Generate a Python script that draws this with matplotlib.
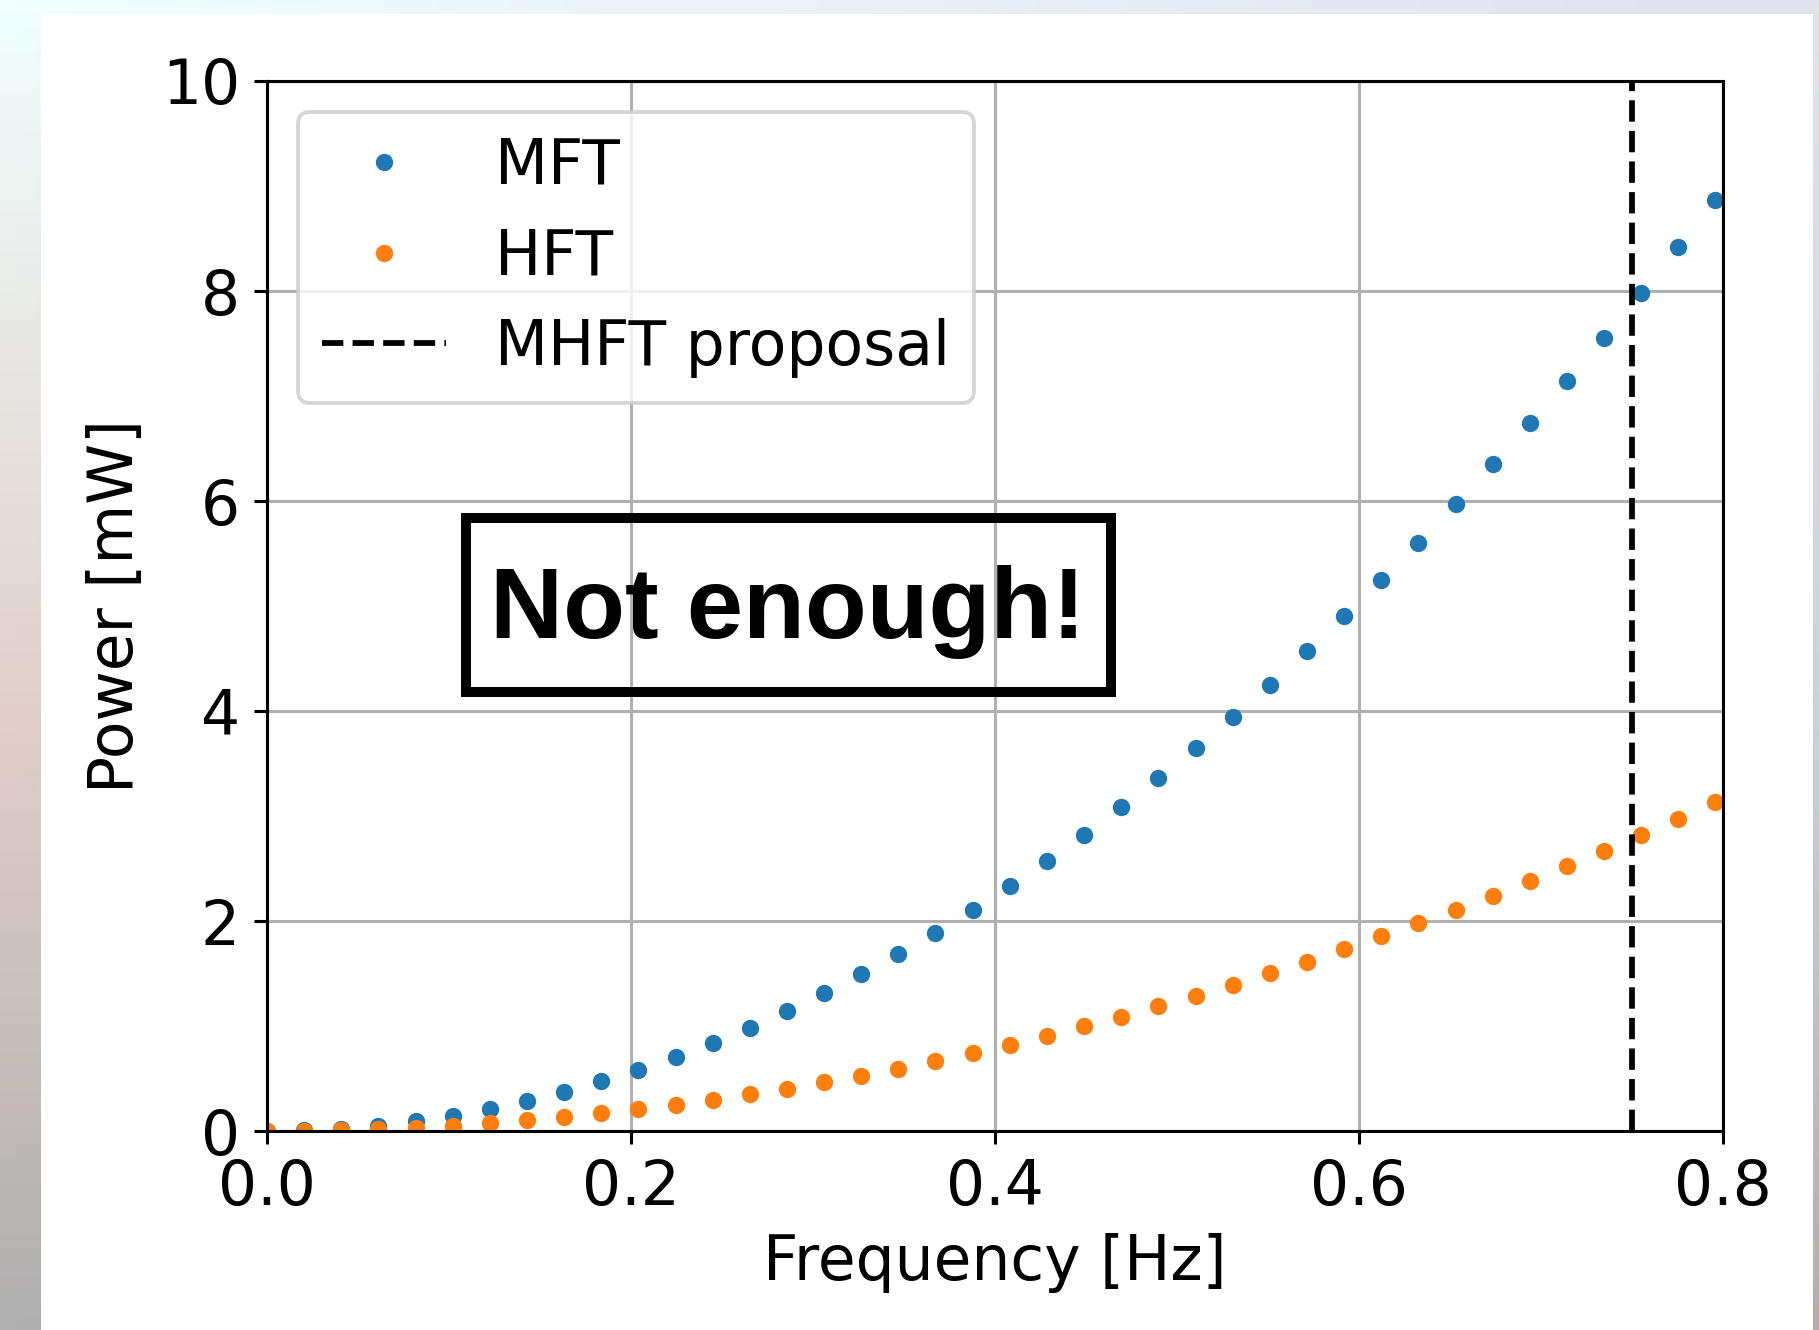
import numpy as np
import matplotlib
matplotlib.use("Agg")
import matplotlib.pyplot as plt

# frequency grid [Hz]
freq = [0.0, 0.0204, 0.0408, 0.0612, 0.0816, 0.1020, 0.1224, 0.1429, 0.1633, 0.1837,
        0.2041, 0.2245, 0.2449, 0.2653, 0.2857, 0.3061, 0.3265, 0.3469, 0.3673, 0.3878,
        0.4082, 0.4286, 0.4490, 0.4694, 0.4898, 0.5102, 0.5306, 0.5510, 0.5714, 0.5918,
        0.6122, 0.6327, 0.6531, 0.6735, 0.6939, 0.7143, 0.7347, 0.7551, 0.7755, 0.7959]

# power [mW]
mft = [0.0, 0.006, 0.023, 0.052, 0.093, 0.146, 0.210, 0.286, 0.373, 0.472,
       0.583, 0.706, 0.840, 0.985, 1.143, 1.312, 1.493, 1.685, 1.889, 2.105,
       2.332, 2.571, 2.822, 3.085, 3.359, 3.644, 3.942, 4.251, 4.571, 4.904,
       5.248, 5.603, 5.971, 6.350, 6.741, 7.143, 7.557, 7.983, 8.420, 8.869]
hft = [0.0, 0.002, 0.008, 0.019, 0.033, 0.051, 0.074, 0.101, 0.132, 0.167,
       0.206, 0.249, 0.296, 0.348, 0.404, 0.463, 0.527, 0.595, 0.667, 0.743,
       0.824, 0.908, 0.997, 1.089, 1.186, 1.287, 1.392, 1.501, 1.614, 1.732,
       1.853, 1.979, 2.108, 2.242, 2.380, 2.522, 2.668, 2.819, 2.973, 3.132]

proposal_freq = 0.75

plt.rcParams['font.size'] = 16

dpi = 277
fig = plt.figure(figsize=(1819 / dpi, 1330 / dpi), dpi=dpi)

# slide-like frame behind the white card
bg = fig.add_axes([0, 0, 1, 1], zorder=-10)
ny, nx = 100, 100
ty = np.linspace(0, 1, ny)
stops = [0.0, 0.55, 1.0]
left_col = np.stack([np.interp(ty, stops, [240, 224, 176]),
                     np.interp(ty, stops, [255, 206, 176]),
                     np.interp(ty, stops, [255, 200, 176])], axis=1)
right_col = np.stack([np.interp(ty, stops, [226, 200, 182]),
                      np.interp(ty, stops, [226, 210, 172]),
                      np.interp(ty, stops, [234, 220, 172])], axis=1)
tx = np.linspace(0, 1, nx)[None, :, None]
img = (left_col[:, None, :] * (1 - tx) + right_col[:, None, :] * tx) / 255.0
bg.imshow(img, aspect='auto', extent=[0, 1, 0, 1], origin='upper')
bg.add_patch(plt.Rectangle((41 / 1819, 0), (1813 - 41) / 1819, 1 - 14 / 1330,
                           facecolor='white', edgecolor='none'))
bg.set_xlim(0, 1)
bg.set_ylim(0, 1)
bg.axis('off')

ax = fig.add_axes([0.1468, 0.1496, 0.9472 - 0.1468, 0.9391 - 0.1496])
ax.plot(freq, mft, '.', ms=7, label='MFT')
ax.plot(freq, hft, '.', ms=7, label='HFT')
ax.axvline(proposal_freq, color='k', linestyle='--', label='MHFT proposal')
ax.set_xlim(0, 0.8)
ax.set_ylim(0, 10)
ax.grid(True)
ax.set_xlabel('Frequency [Hz]')
ax.set_ylabel('Power [mW]')
ax.legend(loc='upper left')

# "Not enough!" callout with its frame
ax.add_patch(plt.Rectangle((0.1365, 0.4185), 0.5800 - 0.1365, 0.5840 - 0.4185,
                           transform=ax.transAxes, facecolor='none', edgecolor='black',
                           linewidth=2.6, zorder=5))
ax.text(0.3576, 0.4695, 'Not enough!', transform=ax.transAxes, ha='center', va='baseline',
        fontsize=26.3, fontweight='bold', family='Liberation Sans', zorder=6)

fig.savefig('out.png', dpi=dpi)
plt.close()
